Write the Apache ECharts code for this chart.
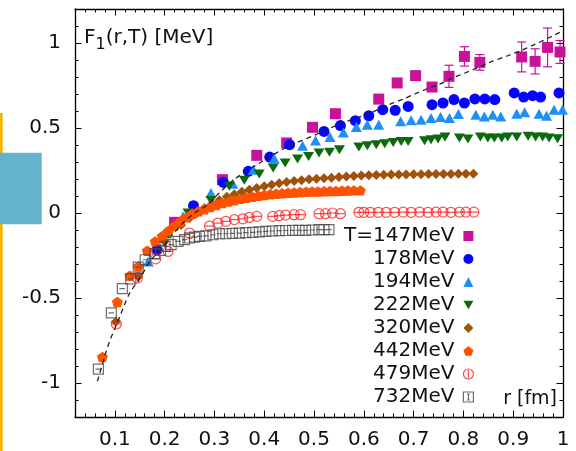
<!DOCTYPE html>
<html>
<head>
<meta charset="utf-8">
<script src="https://cdn.jsdelivr.net/npm/echarts@6/dist/echarts.min.js"></script>
<style>
  html, body { margin: 0; padding: 0; background: #fff; }
  #chart { width: 576px; height: 451px; }
</style>
</head>
<body>
<div id="chart"></div>
<script>
// Singlet free energy F1(r,T) in MeV-scale units vs. separation r [fm]

const xMajor = [0.1, 0.2, 0.3, 0.4, 0.5, 0.6, 0.7, 0.8, 0.9, 1];
const yMajor = [-1, -0.5, 0, 0.5, 1];

// T = 147 MeV (with error bars)
const r147 = [0.220, 0.316, 0.385, 0.445, 0.497, 0.543, 0.630, 0.667, 0.704, 0.737, 0.771, 0.802, 0.833, 0.917, 0.944, 0.969, 0.994];
const f147 = [-0.055, 0.196, 0.339, 0.412, 0.504, 0.584, 0.670, 0.765, 0.808, 0.741, 0.804, 0.921, 0.886, 0.918, 0.892, 0.974, 0.947];
const e147 = [0.01, 0.01, 0.01, 0.01, 0.01, 0.01, 0.01, 0.025, 0.01, 0.015, 0.065, 0.057, 0.046, 0.088, 0.074, 0.114, 0.067];

// T = 178 MeV
const r178 = [0.185, 0.258, 0.318, 0.368, 0.411, 0.451, 0.520, 0.553, 0.583, 0.610, 0.638, 0.663, 0.689, 0.737, 0.759, 0.781, 0.802, 0.823, 0.843, 0.863, 0.902, 0.921, 0.939, 0.955, 0.992];
const f178 = [-0.216, 0.043, 0.180, 0.245, 0.329, 0.402, 0.480, 0.514, 0.543, 0.572, 0.608, 0.604, 0.627, 0.637, 0.647, 0.667, 0.647, 0.671, 0.671, 0.667, 0.706, 0.682, 0.690, 0.682, 0.706];

// T = 194 MeV
const r194 = [0.167, 0.237, 0.293, 0.337, 0.378, 0.420, 0.477, 0.503, 0.532, 0.559, 0.585, 0.607, 0.630, 0.674, 0.695, 0.715, 0.735, 0.754, 0.772, 0.790, 0.825, 0.842, 0.859, 0.875, 0.907, 0.923, 0.952, 0.967, 0.982, 0.999];
const f194 = [-0.285, -0.020, 0.118, 0.172, 0.255, 0.320, 0.396, 0.427, 0.447, 0.474, 0.506, 0.519, 0.519, 0.539, 0.545, 0.549, 0.559, 0.565, 0.559, 0.582, 0.578, 0.568, 0.578, 0.568, 0.584, 0.592, 0.584, 0.572, 0.608, 0.608];

// T = 222 MeV
const r222 = [0.147, 0.207, 0.247, 0.293, 0.330, 0.360, 0.390, 0.418, 0.442, 0.467, 0.489, 0.510, 0.531, 0.551, 0.590, 0.607, 0.625, 0.642, 0.659, 0.675, 0.689, 0.722, 0.735, 0.749, 0.763, 0.792, 0.809, 0.834, 0.849, 0.862, 0.877, 0.889, 0.907, 0.930, 0.945, 0.959, 0.972, 0.989];
const f222 = [-0.380, -0.128, 0.000, 0.074, 0.157, 0.192, 0.230, 0.265, 0.294, 0.318, 0.333, 0.353, 0.357, 0.372, 0.388, 0.396, 0.402, 0.408, 0.415, 0.421, 0.421, 0.425, 0.431, 0.435, 0.447, 0.441, 0.435, 0.447, 0.441, 0.441, 0.441, 0.447, 0.447, 0.451, 0.447, 0.447, 0.441, 0.437];

// T = 320 MeV
const r320 = [0.102, 0.147, 0.200, 0.233, 0.250, 0.265, 0.280, 0.295, 0.310, 0.325, 0.340, 0.355, 0.370, 0.385, 0.400, 0.415, 0.430, 0.445, 0.460, 0.475, 0.490, 0.505, 0.520, 0.535, 0.550, 0.565, 0.580, 0.595, 0.610, 0.625, 0.640, 0.655, 0.670, 0.685, 0.700, 0.715, 0.730, 0.745, 0.760, 0.775, 0.790, 0.805, 0.820];
const f320 = [-0.640, -0.373, -0.167, -0.070, -0.030, 0.000, 0.030, 0.055, 0.075, 0.095, 0.110, 0.125, 0.137, 0.147, 0.157, 0.166, 0.175, 0.182, 0.188, 0.193, 0.198, 0.202, 0.205, 0.208, 0.212, 0.215, 0.218, 0.220, 0.222, 0.224, 0.225, 0.226, 0.227, 0.227, 0.228, 0.228, 0.229, 0.229, 0.230, 0.230, 0.231, 0.231, 0.231];

// T = 442 MeV
const r442 = [0.075, 0.105, 0.130, 0.147, 0.165, 0.181, 0.195, 0.208, 0.220, 0.232, 0.244, 0.256, 0.268, 0.280, 0.292, 0.304, 0.316, 0.328, 0.340, 0.352, 0.364, 0.376, 0.388, 0.400, 0.412, 0.424, 0.436, 0.448, 0.460, 0.472, 0.484, 0.496, 0.508, 0.520, 0.532, 0.544, 0.556, 0.568, 0.580, 0.593];
const f442 = [-0.847, -0.524, -0.369, -0.314, -0.222, -0.167, -0.135, -0.105, -0.075, -0.048, -0.025, -0.005, 0.010, 0.022, 0.035, 0.047, 0.058, 0.067, 0.075, 0.083, 0.090, 0.096, 0.101, 0.106, 0.110, 0.113, 0.116, 0.119, 0.121, 0.123, 0.125, 0.126, 0.127, 0.128, 0.129, 0.130, 0.131, 0.132, 0.133, 0.133];

// T = 479 MeV
const r479 = [0.103, 0.145, 0.182, 0.207, 0.250, 0.290, 0.307, 0.323, 0.340, 0.357, 0.370, 0.385, 0.417, 0.430, 0.443, 0.460, 0.473, 0.510, 0.523, 0.537, 0.553, 0.590, 0.600, 0.613, 0.629, 0.645, 0.662, 0.679, 0.695, 0.712, 0.729, 0.745, 0.759, 0.775, 0.792, 0.805, 0.821];
const f479 = [-0.653, -0.382, -0.270, -0.226, -0.118, -0.077, -0.059, -0.049, -0.039, -0.034, -0.026, -0.020, -0.020, -0.016, -0.012, -0.010, -0.010, -0.004, -0.004, 0.000, -0.004, 0.004, 0.004, 0.004, 0.004, 0.004, 0.004, 0.005, 0.004, 0.005, 0.004, 0.005, 0.005, 0.004, 0.005, 0.005, 0.005];

// T = 732 MeV
const r732 = [0.067, 0.093, 0.115, 0.132, 0.147, 0.161, 0.180, 0.192, 0.201, 0.213, 0.227, 0.240, 0.250, 0.260, 0.270, 0.283, 0.297, 0.310, 0.323, 0.336, 0.350, 0.363, 0.377, 0.390, 0.403, 0.416, 0.430, 0.443, 0.457, 0.470, 0.483, 0.496, 0.510, 0.520, 0.530];
const f732 = [-0.918, -0.588, -0.445, -0.388, -0.318, -0.275, -0.239, -0.220, -0.196, -0.186, -0.167, -0.157, -0.147, -0.142, -0.138, -0.134, -0.128, -0.122, -0.122, -0.120, -0.118, -0.116, -0.114, -0.111, -0.108, -0.106, -0.104, -0.103, -0.102, -0.102, -0.102, -0.100, -0.098, -0.098, -0.098];

// Zero-temperature reference curve (dashed)
const rFit = [0.065, 0.080, 0.090, 0.100, 0.110, 0.120, 0.130, 0.153, 0.170, 0.195, 0.213, 0.240, 0.260, 0.287, 0.307, 0.343, 0.400, 0.447, 0.503, 0.557, 0.610, 0.653, 0.679, 0.702, 0.725, 0.752, 0.775, 0.802, 0.829, 0.852, 0.889, 0.915, 0.942, 0.982, 0.995];
const fFit = [-0.990, -0.840, -0.750, -0.680, -0.610, -0.535, -0.470, -0.373, -0.285, -0.206, -0.138, -0.049, 0.000, 0.050, 0.110, 0.205, 0.310, 0.390, 0.460, 0.530, 0.585, 0.640, 0.670, 0.700, 0.728, 0.758, 0.790, 0.822, 0.855, 0.885, 0.925, 0.955, 0.990, 1.045, 1.065];

const FONT = 'DejaVu Sans';
const zip = (a, b, c) => a.map((v, i) => c ? [v, b[i], c[i]] : [v, b[i]]);

const SYM = {
  pentagon: 'path://M0,-1L0.951,-0.309L0.588,0.809L-0.588,0.809L-0.951,-0.309Z',
  down: 'path://M-1,-0.87L1,-0.87L0,0.87Z',
  circBar: 'path://M-1,0A1,1 0 1,1 1,0A1,1 0 1,1 -1,0Z M-1,0L1,0',
  circBarV: 'path://M-1,0A1,1 0 1,1 1,0A1,1 0 1,1 -1,0Z M0,-0.8L0,0.8',
  boxBar: 'path://M-1,-1L1,-1L1,1L-1,1Z M-0.55,0L0.55,0',
  boxBarV: 'path://M-1,-1L1,-1L1,1L-1,1Z M0,-0.6L0,0.6 M-0.3,-0.6L0.3,-0.6 M-0.3,0.6L0.3,0.6'
};

const C = {
  t147: '#c8129a', t178: '#0505ff', t194: '#1f8ff5', t222: '#0d690d',
  t320: '#a0520c', t442: '#ff5200', t479: '#ff2424', t732: '#4a4a4a'
};

const frameLine = { show: true, onZero: false, lineStyle: { color: '#000', width: 1.3 } };
const tickStyle = { color: '#000', width: 1 };

function minorAxis(pos, isX) {
  return {
    type: 'value', position: pos,
    min: isX ? 0.02 : -1.2, max: isX ? 1 : 1.2, interval: isX ? 0.02 : 0.1,
    axisLine: frameLine,
    axisTick: { inside: true, length: 3.5, lineStyle: tickStyle },
    axisLabel: { show: false }, splitLine: { show: false }
  };
}
function majorAxis(pos, isX, withLabels) {
  const vals = isX ? xMajor : yMajor;
  return {
    type: 'value', position: pos,
    min: isX ? 0.02 : -1.2, max: isX ? 1 : 1.2,
    axisLine: { show: false, onZero: false },
    axisTick: { inside: true, length: 6.5, lineStyle: tickStyle, customValues: vals },
    axisLabel: withLabels ? {
      customValues: vals, formatter: v => String(v),
      fontFamily: FONT, fontSize: 20, color: '#111', margin: isX ? 13 : 14
    } : { show: false },
    splitLine: { show: false }
  };
}

const scatter = (name, data, symbol, size, color, extra) => Object.assign({
  name, type: 'scatter', data, symbol, symbolSize: size, symbolKeepAspect: false,
  itemStyle: { color, opacity: 1 }, silent: true, animation: false
}, extra || {});

const hollow = color => ({ color: 'rgba(255,255,255,0)', borderColor: color, borderWidth: 1.2 });

const chart = echarts.init(document.getElementById('chart'), null, { renderer: 'canvas' });

chart.setOption({
  animation: false,
  backgroundColor: '#fff',
  grid: { left: 75, right: 13, top: 9, bottom: 34 },
  xAxis: [minorAxis('bottom', true), majorAxis('bottom', true, true), minorAxis('top', true), majorAxis('top', true, false)],
  yAxis: [minorAxis('left', false), majorAxis('left', false, true), minorAxis('right', false), majorAxis('right', false, false)],
  title: [
    {
      text: '{a|F}{s|1}{a|(r,T) [MeV]}', left: 84, top: 27, padding: 0,
      textStyle: {
        fontWeight: 'normal',
        rich: {
          a: { fontFamily: FONT, fontSize: 20, fontWeight: 'normal', color: '#111', lineHeight: 22 },
          s: { fontFamily: FONT, fontSize: 16, fontWeight: 'normal', color: '#111', lineHeight: 16, padding: [14, 0, 0, 0] }
        }
      }
    },
    {
      text: 'r [fm]', right: 19, top: 390, padding: 0,
      textStyle: { fontFamily: FONT, fontSize: 19, fontWeight: 'normal', color: '#111' }
    }
  ],
  legend: {
    orient: 'vertical', align: 'right', right: 102, top: 224.5, padding: 0, itemGap: 0,
    itemWidth: 10, itemHeight: 10, selectedMode: false,
    textStyle: { fontFamily: FONT, fontSize: 20, color: '#111', lineHeight: 23, padding: [0, 4, 0, 0] },
    data: [
      { name: 'T=147MeV', icon: 'rect' },
      { name: '178MeV', icon: 'circle' },
      { name: '194MeV', icon: 'triangle' },
      { name: '222MeV', icon: SYM.down },
      { name: '320MeV', icon: 'diamond' },
      { name: '442MeV', icon: SYM.pentagon },
      { name: '479MeV', icon: SYM.circBarV, itemStyle: hollow(C.t479) },
      { name: '732MeV', icon: SYM.boxBarV, itemStyle: hollow(C.t732) }
    ]
  },
  graphic: [
    { type: 'rect', left: 0, top: 113, shape: { width: 2.7, height: 338 }, style: { fill: '#f5b400' }, z: -1 },
    { type: 'rect', left: 0, top: 152.7, shape: { width: 41.7, height: 71.6 }, style: { fill: '#63b3cc' }, z: -1 }
  ],
  series: [
    {
      name: 'err147', type: 'custom', silent: true, animation: false,
      data: zip(r147, f147, e147),
      renderItem: (params, api) => {
        const x = api.value(0), y = api.value(1), e = api.value(2);
        const top = api.coord([x, y + e]), bot = api.coord([x, y - e]);
        const st = { stroke: C.t147, lineWidth: 1.2 };
        return {
          type: 'group', children: [
            { type: 'line', shape: { x1: top[0], y1: top[1], x2: bot[0], y2: bot[1] }, style: st },
            { type: 'line', shape: { x1: top[0] - 4.5, y1: top[1], x2: top[0] + 4.5, y2: top[1] }, style: st },
            { type: 'line', shape: { x1: bot[0] - 4.5, y1: bot[1], x2: bot[0] + 4.5, y2: bot[1] }, style: st }
          ]
        };
      }
    },
    scatter('T=147MeV', zip(r147, f147), 'rect', 11, C.t147),
    scatter('178MeV', zip(r178, f178), 'circle', 11, C.t178),
    scatter('194MeV', zip(r194, f194), 'triangle', [11, 10], C.t194),
    scatter('222MeV', zip(r222, f222), SYM.down, [11, 9], C.t222),
    scatter('320MeV', zip(r320, f320), 'diamond', [10, 10], C.t320),
    scatter('442MeV', zip(r442, f442), SYM.pentagon, [11, 11], C.t442, { symbolKeepAspect: true }),
    Object.assign(scatter('479MeV', zip(r479, f479), SYM.circBar, 10, C.t479), { itemStyle: hollow(C.t479) }),
    Object.assign(scatter('732MeV', zip(r732, f732), SYM.boxBar, 10, C.t732), { itemStyle: hollow(C.t732) }),
    {
      name: 'T=0 fit', type: 'line', data: zip(rFit, fFit), smooth: 0.3,
      showSymbol: false, silent: true, animation: false, z: 5,
      lineStyle: { color: '#222', width: 1.3, type: [5, 4] }
    }
  ]
});
</script>
</body>
</html>
